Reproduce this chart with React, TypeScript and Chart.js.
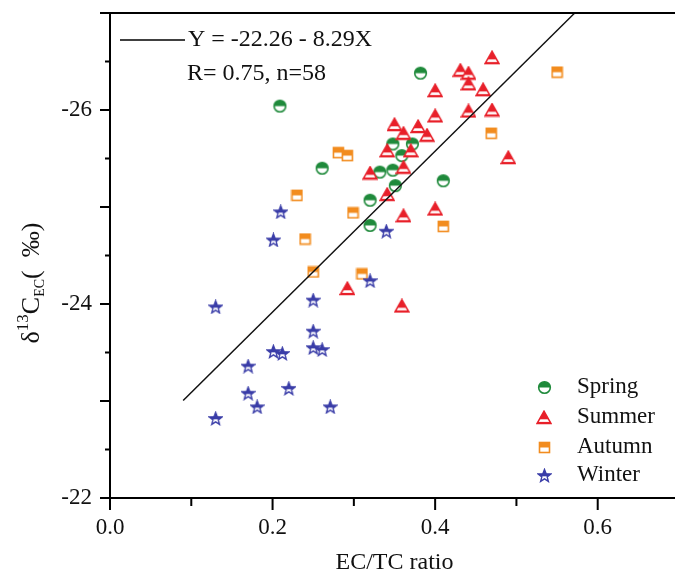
import React, { useEffect, useRef } from 'react';
import { Chart, registerables } from 'chart.js';
Chart.register(...registerables);

const seasons = ['Spring', 'Summer', 'Autumn', 'Winter'];
const springX = [0.209, 0.382, 0.261, 0.348, 0.372, 0.359, 0.332, 0.348, 0.351, 0.32, 0.32, 0.41];
const springY = [-26.04, -26.38, -25.4, -25.65, -25.65, -25.53, -25.36, -25.38, -25.22, -25.07, -24.81, -25.27];
const summerX = [0.47, 0.431, 0.441, 0.441, 0.459, 0.4, 0.47, 0.441, 0.4, 0.35, 0.379, 0.361, 0.39, 0.341, 0.37, 0.32, 0.361, 0.341, 0.49, 0.361, 0.4, 0.292, 0.359];
const summerY = [-26.54, -26.41, -26.38, -26.27, -26.21, -26.2, -26.0, -25.99, -25.94, -25.85, -25.83, -25.76, -25.74, -25.58, -25.58, -25.35, -25.41, -25.13, -25.51, -24.91, -24.98, -24.16, -23.98];
const autumnX = [0.55, 0.469, 0.281, 0.292, 0.23, 0.299, 0.41, 0.24, 0.25, 0.31];
const autumnY = [-26.39, -25.76, -25.56, -25.53, -25.12, -24.94, -24.8, -24.67, -24.33, -24.31];
const winterX = [0.21, 0.201, 0.34, 0.32, 0.13, 0.25, 0.25, 0.25, 0.261, 0.201, 0.212, 0.17, 0.17, 0.22, 0.181, 0.271, 0.13];
const winterY = [-24.95, -24.66, -24.75, -24.24, -23.97, -24.04, -23.72, -23.55, -23.53, -23.51, -23.49, -23.36, -23.08, -23.13, -22.94, -22.94, -22.82];
const fitIntercept = -22.26;
const fitSlope = -8.29;
const fitX = [0.09, 0.572];
const fitLabel = 'Y = -22.26 - 8.29X';
const fitStats = 'R= 0.75, n=58';
const xTickLabels = ['0.0', '0.2', '0.4', '0.6'];
const yTickLabels = ['-22', '-24', '-26'];
const xTitle = 'EC/TC ratio';

const SERIF = '"Liberation Serif", "Times New Roman", serif';
const COLORS = ['#1f8a3b', '#e8202a', '#f28c1f', '#3a3da8'];

const AREA = { left: 110, top: 13, right: 679, bottom: 498 };

function makeMarker(kind: string, color: string): HTMLCanvasElement {
  const c = document.createElement('canvas');
  const ctx = c.getContext('2d') as CanvasRenderingContext2D;
  if (kind === 'circle') {
    c.width = 15; c.height = 15;
    ctx.lineWidth = 1.6; ctx.strokeStyle = color; ctx.fillStyle = '#fff';
    ctx.beginPath(); ctx.arc(7.5, 7.5, 5.8, 0, Math.PI * 2); ctx.fill();
    ctx.fillStyle = color;
    ctx.beginPath(); ctx.arc(7.5, 7.5, 5.8, Math.PI, 0); ctx.closePath(); ctx.fill();
    ctx.beginPath(); ctx.arc(7.5, 7.5, 5.8, 0, Math.PI * 2); ctx.stroke();
  } else if (kind === 'triangle') {
    c.width = 16; c.height = 15;
    ctx.lineWidth = 1.5; ctx.strokeStyle = color; ctx.fillStyle = color;
    const path = () => { ctx.beginPath(); ctx.moveTo(8, 1.2); ctx.lineTo(15, 13.6); ctx.lineTo(1, 13.6); ctx.closePath(); };
    path(); ctx.fill();
    ctx.save(); path(); ctx.clip(); ctx.fillStyle = '#fff'; ctx.fillRect(0, 9.3, 16, 2.6); ctx.restore();
    ctx.strokeStyle = color;
    path(); ctx.stroke();
  } else if (kind === 'square') {
    c.width = 13; c.height = 13;
    ctx.fillStyle = '#fff'; ctx.fillRect(1, 1, 11, 11);
    ctx.fillStyle = color; ctx.fillRect(1, 1, 11, 5.5);
    ctx.lineWidth = 1.6; ctx.strokeStyle = color; ctx.strokeRect(1.5, 1.5, 10, 10);
  } else {
    c.width = 15; c.height = 15;
    const path = () => {
      ctx.beginPath();
      for (let i = 0; i < 10; i++) {
        const r = i % 2 === 0 ? 6.6 : 2.8;
        const a = -Math.PI / 2 + (i * Math.PI) / 5;
        const px = 7.5 + r * Math.cos(a);
        const py = 8 + r * Math.sin(a);
        if (i === 0) ctx.moveTo(px, py); else ctx.lineTo(px, py);
      }
      ctx.closePath();
    };
    ctx.fillStyle = '#fff'; path(); ctx.fill();
    ctx.save(); path(); ctx.clip(); ctx.fillStyle = color; ctx.fillRect(0, 0, 15, 8.3); ctx.restore();
    ctx.lineWidth = 1.4; ctx.strokeStyle = color; path(); ctx.stroke();
  }
  return c;
}

const toPoints = (xs: number[], ys: number[]) => xs.map((x, i) => ({ x, y: ys[i] }));

export default function App() {
  const ref = useRef<HTMLCanvasElement | null>(null);
  useEffect(() => {
    if (!ref.current) return;
    const markers = [
      makeMarker('circle', COLORS[0]),
      makeMarker('triangle', COLORS[1]),
      makeMarker('square', COLORS[2]),
      makeMarker('star', COLORS[3]),
    ];
    const seriesX = [springX, summerX, autumnX, winterX];
    const seriesY = [springY, summerY, autumnY, winterY];

    const decor = {
      id: 'decor',
      afterDraw(chart: any) {
        const { ctx, chartArea: a, scales } = chart;
        const xs = scales.x;
        const ys = scales.y;
        ctx.save();
        ctx.fillStyle = '#fff';
        ctx.fillRect(a.right - 9, a.top + 1, chart.width - a.right + 9, a.bottom - a.top - 2);
        ctx.strokeStyle = '#000';
        ctx.lineWidth = 2;
        ctx.beginPath();
        ctx.moveTo(a.left, a.top);
        ctx.lineTo(a.left, a.bottom);
        ctx.lineTo(a.right + 10, a.bottom);
        ctx.moveTo(a.left - 1, a.top);
        ctx.lineTo(a.right + 10, a.top);
        ctx.stroke();
        ctx.beginPath();
        for (let i = 0; i <= 10; i++) {
          const v = -27 + i * 0.5;
          const p = ys.getPixelForValue(v);
          const len = i % 2 === 0 ? 10 : 5;
          ctx.moveTo(a.left - len, p);
          ctx.lineTo(a.left, p);
        }
        for (let i = 0; i <= 6; i++) {
          const p = xs.getPixelForValue(i * 0.1);
          const len = i % 2 === 0 ? 12 : 8;
          ctx.moveTo(p, a.bottom);
          ctx.lineTo(p, a.bottom + len);
        }
        ctx.stroke();

        // fit legend
        ctx.lineWidth = 1.5;
        ctx.beginPath();
        ctx.moveTo(120, 40);
        ctx.lineTo(185, 40);
        ctx.stroke();
        ctx.fillStyle = '#111';
        ctx.font = `24px ${SERIF}`;
        ctx.textAlign = 'left';
        ctx.textBaseline = 'middle';
        ctx.fillText(fitLabel, 188, 40);
        ctx.fillText(fitStats, 187, 74);

        // season legend
        ctx.font = `23px ${SERIF}`;
        const rows = [387, 417, 447, 475];
        seasons.forEach((s, i) => {
          const m = markers[i];
          ctx.drawImage(m, Math.round(544 - m.width / 2), Math.round(rows[i] - m.height / 2));
          ctx.fillText(s, 577, rows[i]);
        });

        // y title
        ctx.translate(39, 283);
        ctx.rotate(-Math.PI / 2);
        const pieces: [string, number, number][] = [
          ['δ', 26, 0],
          ['13', 17, -11],
          ['C', 26, 0],
          ['EC', 14, 5],
          ['(  ', 26, 0],
          ['‰', 26, 0],
          [')', 26, 0],
        ];
        let total = 0;
        pieces.forEach(([t, f]) => { ctx.font = `${f}px ${SERIF}`; total += ctx.measureText(t).width; });
        let x = -total / 2;
        ctx.textBaseline = 'alphabetic';
        pieces.forEach(([t, f, dy]) => {
          ctx.font = `${f}px ${SERIF}`;
          ctx.fillText(t, x, dy);
          x += ctx.measureText(t).width;
        });
        ctx.restore();
      },
    };

    const datasets: any[] = seasons.map((s, i) => ({
      type: 'scatter',
      label: s,
      data: toPoints(seriesX[i], seriesY[i]),
      pointStyle: markers[i],
      pointRadius: 6,
      pointHoverRadius: 6,
      order: 4 - i,
    }));
    datasets.push({
      type: 'line',
      label: 'fit',
      data: fitX.map((x) => ({ x, y: fitIntercept + fitSlope * x })),
      borderColor: '#111',
      borderWidth: 1.5,
      pointRadius: 0,
      showLine: true,
      fill: false,
      order: 0,
    });

    const chart = new Chart(ref.current, {
      type: 'scatter',
      data: { datasets },
      options: {
        animation: false,
        responsive: false,
        devicePixelRatio: 1,
        layout: { padding: { left: 0, top: AREA.top, right: 690 - AREA.right, bottom: 0 } },
        plugins: { legend: { display: false }, tooltip: { enabled: false } },
        scales: {
          x: {
            type: 'linear',
            min: 0,
            max: 0.7,
            grid: { display: false, drawTicks: false, tickLength: 0 },
            border: { display: false },
            ticks: {
              stepSize: 0.1,
              padding: 16,
              color: '#111',
              font: { family: SERIF, size: 23 },
              maxRotation: 0,
              autoSkip: false,
              callback: (v: any) => {
                const s = Number(v).toFixed(1);
                return xTickLabels.includes(s) ? s : '';
              },
            },
            title: {
              display: true,
              text: xTitle,
              color: '#111',
              font: { family: SERIF, size: 24 },
              padding: { top: 0, bottom: 0 },
            },
            afterFit: (scale: any) => {
              scale.height = 577 - AREA.bottom;
              scale.paddingLeft = 0;
              scale.paddingRight = 0;
            },
          },
          y: {
            type: 'linear',
            min: -27,
            max: -22,
            reverse: true,
            grid: { display: false, drawTicks: false, tickLength: 0 },
            border: { display: false },
            ticks: {
              stepSize: 0.5,
              padding: 18,
              color: '#111',
              font: { family: SERIF, size: 23 },
              autoSkip: false,
              callback: (v: any) => {
                const s = String(Math.round(Number(v) * 10) / 10);
                return yTickLabels.includes(s) ? s : '';
              },
            },
            afterFit: (scale: any) => {
              scale.width = AREA.left;
              scale.paddingTop = 0;
              scale.paddingBottom = 0;
            },
          },
        },
      },
      plugins: [decor],
    } as any);
    return () => chart.destroy();
  }, []);

  return (
    <div style={{ position: 'fixed', left: 0, top: 0, width: 675, height: 577, overflow: 'hidden', background: '#fff' }}>
      <canvas ref={ref} width={690} height={577} style={{ display: 'block', width: 690, height: 577 }} />
    </div>
  );
}
